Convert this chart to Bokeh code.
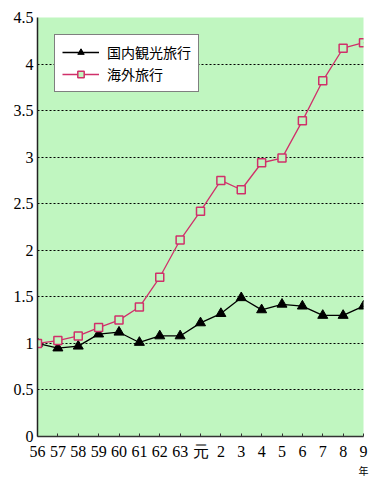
from bokeh.plotting import figure
from bokeh.models import Legend, LegendItem, LinearAxis, FixedTicker, Range1d
from bokeh.embed import file_html
from bokeh.resources import INLINE

# Data
years = ["56", "57", "58", "59", "60", "61", "62", "63", "元", "2", "3", "4", "5", "6", "7", "8", "9"]
domestic = [1.00, 0.95, 0.97, 1.10, 1.12, 1.01, 1.08, 1.08, 1.22, 1.32, 1.49, 1.36, 1.42, 1.40, 1.30, 1.30, 1.40]
overseas = [1.00, 1.03, 1.08, 1.17, 1.25, 1.39, 1.71, 2.11, 2.42, 2.75, 2.65, 2.94, 2.99, 3.39, 3.82, 4.17, 4.23]
y_ticks = [0, 0.5, 1, 1.5, 2, 2.5, 3, 3.5, 4, 4.5]
y_labels = ["0", "0.5", "1", "1.5", "2", "2.5", "3", "3.5", "4", "4.5"]
series_names = ["国内観光旅行", "海外旅行"]
unit_label = "年"

xs = list(range(len(years)))

p = figure(width=380, height=480, output_backend="svg", toolbar_location=None,
           x_range=Range1d(0, len(years) - 1), y_range=Range1d(0, 4.5),
           min_border_left=37, min_border_right=17, min_border_top=17, min_border_bottom=44)
p.background_fill_color = "#c0f6c0"
p.border_fill_color = "white"
p.outline_line_color = None

serif = "Liberation Serif"

# axes
p.xaxis.ticker = FixedTicker(ticks=xs)
p.xaxis.major_label_overrides = {i: lab for i, lab in enumerate(years)}
p.xaxis.major_label_text_font = serif
p.xaxis.major_label_text_font_size = "16px"
p.xaxis.major_label_text_line_height = 0.75
p.xaxis.major_label_text_color = "black"
p.xaxis.major_label_standoff = 6
p.xaxis.major_tick_in = 3
p.xaxis.major_tick_out = 0
p.xaxis.minor_tick_line_color = None
p.xaxis.axis_line_color = "#333333"
p.xaxis.axis_line_width = 1.5
p.xaxis.major_tick_line_color = "#333333"

# small unit label under the last tick
unit_axis = LinearAxis(ticker=FixedTicker(ticks=[len(years) - 1]),
                       major_label_overrides={len(years) - 1: unit_label},
                       major_label_text_font="Noto Sans CJK JP",
                       major_label_text_font_size="10px",
                       major_label_text_line_height=0.9,
                       major_label_text_color="black",
                       major_label_standoff=0,
                       major_tick_in=0, major_tick_out=0,
                       axis_line_color=None, major_tick_line_color=None,
                       minor_tick_line_color=None)
p.add_layout(unit_axis, "below")

p.yaxis.ticker = FixedTicker(ticks=y_ticks)
p.yaxis.major_label_overrides = {t: l for t, l in zip(y_ticks, y_labels)}
p.yaxis.major_label_text_font = serif
p.yaxis.major_label_text_font_size = "16px"
p.yaxis.major_label_text_color = "black"
p.yaxis.major_label_standoff = 4
p.yaxis.major_tick_in = 0
p.yaxis.major_tick_out = 0
p.yaxis.minor_tick_line_color = None
p.yaxis.axis_line_color = "#222222"
p.yaxis.axis_line_width = 1.5

p.xgrid.grid_line_color = None
p.ygrid.ticker = FixedTicker(ticks=y_ticks[1:])
p.ygrid.grid_line_color = "black"
p.ygrid.grid_line_dash = "2 2"
p.ygrid.grid_line_width = 1

pink = "#d0306a"
l1 = p.line(xs, domestic, line_color="black", line_width=1.3)
m1 = p.scatter(xs, domestic, marker="triangle", size=10, fill_color="black", line_color="black")
l2 = p.line(xs, overseas, line_color=pink, line_width=1.3)
m2 = p.scatter(xs, overseas, marker="square", size=8, fill_color="#c0f6c0", line_color=pink, line_width=1.5)

legend = Legend(items=[LegendItem(label=series_names[0], renderers=[l1, m1]),
                       LegendItem(label=series_names[1], renderers=[l2, m2])],
                location=(17, 344), orientation="vertical",
                label_text_font="Noto Sans CJK JP", label_text_font_size="14px",
                label_text_color="black",
                glyph_width=37, glyph_height=16, label_height=16, spacing=2,
                padding=7, margin=0, label_standoff=8,
                border_line_color="black", border_line_width=1.5,
                background_fill_color="white", background_fill_alpha=1)
p.add_layout(legend, "center")

open("out.html", "w").write(file_html(p, INLINE))
